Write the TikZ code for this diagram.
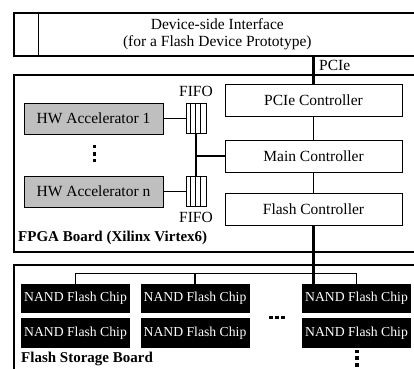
\documentclass[tikz,border=0pt]{standalone}
\usepackage{fontspec}
\setmainfont{Liberation Serif}
\usetikzlibrary{positioning}

\begin{document}
\begin{tikzpicture}[x=1pt, y=-1pt,
    lbl/.style={inner sep=0pt, font=\fontsize{15.5}{17}\selectfont},
    box/.style={lbl, draw, line width=1pt, minimum width=177pt, minimum height=32pt},
    accel/.style={box, fill=black!25, minimum width=139pt, minimum height=31pt},
    fifo/.style={draw, line width=1pt, minimum width=20pt, minimum height=29.5pt, inner sep=0pt},
    chip/.style={fill=black, text=white, minimum width=109pt, minimum height=29.5pt, inner sep=0pt,
      font=\fontsize{13.7}{16}\selectfont},
    board/.style={draw, line width=1.6pt},
    boardlbl/.style={inner sep=0pt, anchor=west, font=\fontsize{15}{17}\selectfont\bfseries},
    link/.style={line width=1.8pt},
    bus/.style={line width=3.6pt},
    dot/.style={fill=black}]
  \clip (0,0) rectangle (414,368);

  \node[board, lbl, anchor=north west, minimum width=407pt, minimum height=43pt, align=center]
    (dev) at (13,12) {Device-side Interface\\(for a Flash Device Prototype)};
  \draw[line width=1pt] ([xshift=25pt]dev.north west) -- ([xshift=25pt]dev.south west);

  \draw[board] (14,75) rectangle (420,252);
  \draw[board] (14,265) rectangle (420,380);

  \node[box] (pcie) at (313.5,100) {PCIe Controller};
  \node[box, below=23pt of pcie] (main) {Main Controller};
  \node[box, below=20pt of main] (flash) {Flash Controller};
  \node[lbl, anchor=west] (pcielbl) at (319,65) {PCIe};

  \node[accel] (acc1) at (93.5,118.5) {HW Accelerator 1};
  \node[accel] (accn) at (93.5,191.5) {HW Accelerator n};
  \node[fifo] (f1) at (196,118.5) {};
  \node[fifo] (fn) at (196,191.5) {};
  \foreach \f in {f1,fn}
    \foreach \k in {5,10,15}
      \draw[line width=0.8pt] ([xshift=\k pt]\f.north west) -- ([xshift=\k pt]\f.south west);
  \node[lbl, above=6pt of f1] (f1lbl) {FIFO};
  \node[lbl, below=5pt of fn] (fnlbl) {FIFO};
  \coordinate (join) at (f1.south |- main.west);

  \node[boardlbl] (fpgalbl) at (18,238) {FPGA Board (Xilinx Virtex6)};
  \node[boardlbl] (storlbl) at (21,359) {Flash Storage Board};

  \node[chip] (c11) at (75.5,298.5) {NAND Flash Chip};
  \node[chip] (c12) at (195,298.5) {NAND Flash Chip};
  \node[chip] (c13) at (356.5,298.5) {NAND Flash Chip};
  \node[chip] (c21) at (75.5,333) {NAND Flash Chip};
  \node[chip] (c22) at (195,333) {NAND Flash Chip};
  \node[chip] (c23) at (356.5,333) {NAND Flash Chip};

  \draw[bus] (dev.south -| pcie.north) -- (pcie.north);
  \draw[link] (pcie) -- (main);
  \draw[link] (main) -- (flash);
  \draw[bus] (flash.south) -- (flash.south |- c13.north);
  \draw[link] (acc1) -- (f1);
  \draw[link] (accn) -- (fn);
  \draw[link] (f1.south) -- (fn.north);
  \draw[link] (join) -- (main.west);
  \draw[link] (c11.north) -- ++(0,-10) -| (c13.north);
  \draw[link] (c12.north) -- ++(0,-10);

  \foreach \y in {146.5,154,160.5}
    \fill[dot] (92.8,\y-1.6) rectangle ++(3.3,3.3);
  \foreach \x in {271,277,283}
    \fill[dot] (\x-1.6,316.3) rectangle ++(3.3,3.1);
  \foreach \y in {351.5,358,365}
    \fill[dot] (355.4,\y-1.6) rectangle ++(3.1,3.3);
\end{tikzpicture}
\end{document}
